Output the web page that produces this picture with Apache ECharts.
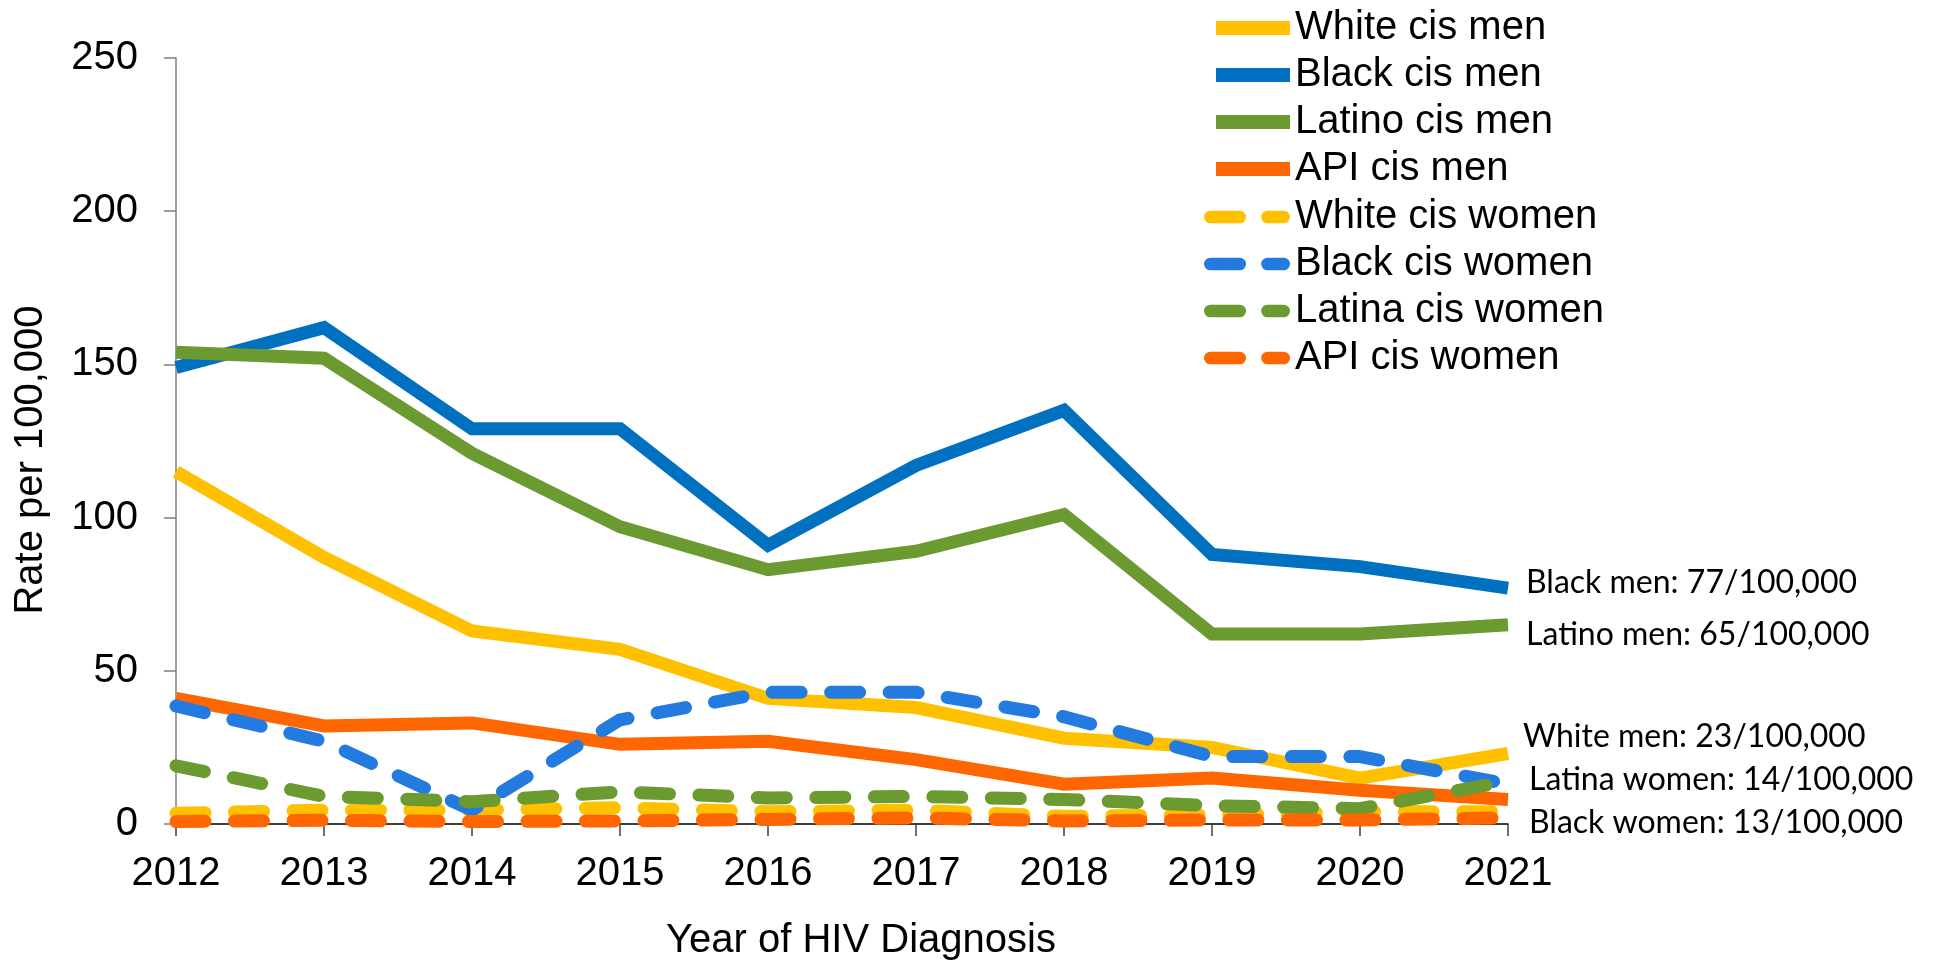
<!DOCTYPE html>
<html>
<head>
<meta charset="utf-8">
<script src="https://cdn.jsdelivr.net/npm/echarts@6/dist/echarts.min.js"></script>
<style>
html,body{margin:0;padding:0;background:#fff;}
#chart{width:1935px;height:964px;}
</style>
</head>
<body>
<div id="chart"></div>
<script>
const years = ['2012','2013','2014','2015','2016','2017','2018','2019','2020','2021'];
const yTicks = [0, 50, 100, 150, 200, 250];

const whiteMen    = [115, 87, 63, 57, 41, 38, 28, 25, 15, 23];
const blackMen    = [149, 162, 129, 129, 91, 117, 135, 88, 84, 77];
const latinoMen   = [154, 152, 121, 97, 83, 89, 101, 62, 62, 65];
const apiMen      = [41, 32, 33, 26, 27, 21, 13, 15, 11, 8];
const whiteWomen  = [3.5, 4.5, 4.5, 5.3, 4, 4.5, 2.5, 3, 4, 4];
const blackWomen  = [38.5, 27, 4.5, 34, 43, 43, 35, 22, 22, 13];
const latinaWomen = [19, 9, 7.3, 10.5, 8.5, 9, 8, 6, 5, 14];
const apiWomen    = [0.8, 1.2, 0.8, 1, 1.5, 2, 1, 1.3, 1.3, 2];

const seriesNames = ['White cis men','Black cis men','Latino cis men','API cis men',
  'White cis women','Black cis women','Latina cis women','API cis women'];
const endNotes = {
  'Black cis men': 'Black men: 77/100,000',
  'Latino cis men': 'Latino men: 65/100,000',
  'White cis men': 'White men: 23/100,000',
  'Latina cis women': 'Latina women: 14/100,000',
  'Black cis women': 'Black women: 13/100,000'
};

const YELLOW = '#FFC000', BLUE = '#0070C0', GREEN = '#6A9A30', ORANGE = '#FF6600', LBLUE = '#237BE0';
const ARIAL = '"Liberation Sans", Arial, sans-serif';
const NOTE_FONT = 'Lato, "Noto Sans", sans-serif';

const noteStyle = {
  'Black cis men':    {distance: 18, offset: [0, -5]},
  'Latino cis men':   {distance: 18, offset: [0, 10]},
  'White cis men':    {distance: 15, offset: [0, -17]},
  'Latina cis women': {distance: 21, offset: [0, -1]},
  'Black cis women':  {distance: 21, offset: [0, 39]}
};

function mk(name, data, color, dashed) {
  const s = {
    name: name, type: 'line', data: data,
    symbol: 'none', showSymbol: false, clip: true,
    itemStyle: {color: color, borderWidth: 0},
    lineStyle: dashed
      ? {color: color, width: 13, type: [29, 29.5], cap: 'round', join: 'round'}
      : {color: color, width: 13, type: 'solid', cap: 'butt', join: 'miter'},
    emphasis: {disabled: true},
    animation: false
  };
  if (endNotes[name]) {
    s.endLabel = {
      show: true,
      formatter: endNotes[name],
      distance: noteStyle[name].distance,
      offset: noteStyle[name].offset,
      color: '#000',
      fontFamily: NOTE_FONT,
      fontSize: 32,
      align: 'left',
      verticalAlign: 'middle'
    };
  }
  return s;
}

const dashIcon = 'path://M6.5,0 H36.5 A6.5,6.5 0 0 1 36.5,13 H6.5 A6.5,6.5 0 0 1 6.5,0 Z M65,0 H81.5 A6.5,6.5 0 0 1 81.5,13 H65 A6.5,6.5 0 0 1 65,0 Z';

const chart = echarts.init(document.getElementById('chart'), null, {renderer: 'canvas'});
chart.setOption({
  backgroundColor: '#ffffff',
  animation: false,
  grid: {left: 176, right: 427, top: 58, bottom: 140, containLabel: false, outerBoundsMode: 'none'},
  legend: [
    {
      data: seriesNames.slice(0, 4).map(n => ({name: n, icon: 'rect'})),
      orient: 'vertical', left: 1211, top: 3,
      itemWidth: 74, itemHeight: 14, itemGap: 7,
      selectedMode: false,
      itemStyle: {borderWidth: 0},
      textStyle: {fontFamily: ARIAL, fontSize: 40, color: '#000', lineHeight: 40}
    },
    {
      data: seriesNames.slice(4).map(n => ({name: n, icon: dashIcon})),
      orient: 'vertical', left: 1199, top: 192,
      itemWidth: 86, itemHeight: 13, itemGap: 7,
      selectedMode: false,
      itemStyle: {borderWidth: 0},
      textStyle: {fontFamily: ARIAL, fontSize: 40, color: '#000', lineHeight: 40}
    }
  ],
  xAxis: {
    type: 'category', data: years, boundaryGap: false,
    name: 'Year of HIV Diagnosis', nameLocation: 'middle', nameGap: 97,
    nameTextStyle: {fontFamily: ARIAL, fontSize: 40, color: '#000', padding: [0, 0, 0, 38]},
    axisLine: {show: true, lineStyle: {color: '#000', width: 1.5}},
    axisTick: {show: true, alignWithLabel: true, length: 12, inside: false, lineStyle: {color: '#404040', width: 1.5}},
    axisLabel: {fontFamily: ARIAL, fontSize: 40, color: '#000', margin: 30},
    splitLine: {show: false}
  },
  yAxis: {
    type: 'value', min: yTicks[0], max: yTicks[yTicks.length - 1], interval: 50,
    name: 'Rate per 100,000', nameLocation: 'middle', nameGap: 125,
    nameTextStyle: {fontFamily: ARIAL, fontSize: 40, color: '#000', padding: [0, 38, 0, 0]},
    axisLine: {show: true, lineStyle: {color: '#7f7f7f', width: 1.5}},
    axisTick: {show: true, length: 12, inside: false, lineStyle: {color: '#7f7f7f', width: 1.5}},
    axisLabel: {fontFamily: ARIAL, fontSize: 40, color: '#000', margin: 38},
    splitLine: {show: false}
  },
  series: [
    mk('White cis men', whiteMen, YELLOW, false),
    mk('Black cis men', blackMen, BLUE, false),
    mk('Latino cis men', latinoMen, GREEN, false),
    mk('API cis men', apiMen, ORANGE, false),
    mk('White cis women', whiteWomen, YELLOW, true),
    mk('Black cis women', blackWomen, LBLUE, true),
    mk('Latina cis women', latinaWomen, GREEN, true),
    mk('API cis women', apiWomen, ORANGE, true)
  ]
});
</script>
</body>
</html>
